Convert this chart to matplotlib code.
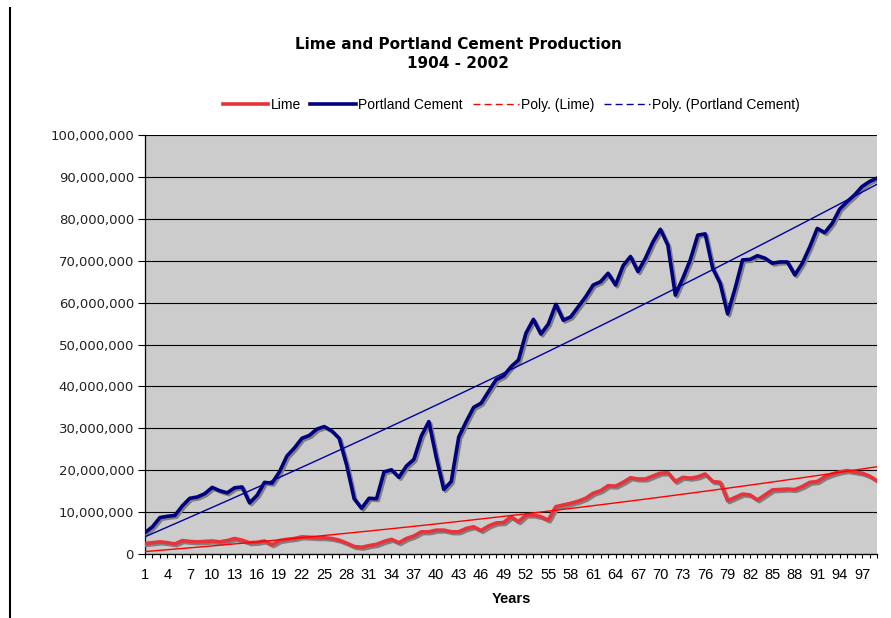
import numpy as np
import matplotlib
matplotlib.use("Agg")
import matplotlib.pyplot as plt
import matplotlib.patheffects as pe
from matplotlib.lines import Line2D
from matplotlib.ticker import FuncFormatter, MultipleLocator

# Production, millions of tons, years 1..99 (1904 - 2002)
years = np.arange(1, 100)

lime = [2.5, 2.7, 2.9, 2.7, 2.4, 3.2, 3.0, 2.9, 3.0, 3.1,
        2.9, 3.2, 3.7, 3.3, 2.7, 2.8, 3.1, 2.2, 3.2, 3.5,
        3.7, 4.1, 4.0, 3.9, 3.9, 3.7, 3.3, 2.6, 1.8, 1.6,
        2.0, 2.3, 3.0, 3.5, 2.7, 3.7, 4.3, 5.3, 5.3, 5.7,
        5.7, 5.3, 5.3, 6.1, 6.5, 5.6, 6.7, 7.4, 7.5, 8.9,
        7.7, 9.3, 9.3, 8.9, 8.1, 11.3, 11.7, 12.1, 12.6, 13.3,
        14.5, 15.1, 16.3, 16.2, 17.1, 18.2, 17.9, 17.9, 18.6, 19.3,
        19.4, 17.3, 18.3, 18.1, 18.4, 19.1, 17.3, 17.1, 12.7, 13.5,
        14.3, 14.1, 12.9, 14.1, 15.3, 15.4, 15.5, 15.4, 16.1, 17.1,
        17.3, 18.4, 19.1, 19.6, 19.9, 19.6, 19.3, 18.6, 17.5]

cement = [5.1, 6.5, 8.7, 9.0, 9.2, 11.5, 13.3, 13.6, 14.4, 15.9,
          15.1, 14.6, 15.8, 16.0, 12.2, 14.0, 17.1, 16.9, 19.6, 23.4,
          25.3, 27.6, 28.3, 29.8, 30.4, 29.4, 27.6, 21.2, 13.2, 10.9,
          13.3, 13.2, 19.6, 20.1, 18.3, 21.0, 22.6, 28.2, 31.6, 23.0,
          15.4, 17.3, 27.9, 31.6, 35.0, 36.0, 38.8, 41.6, 42.5, 44.7,
          46.3, 52.7, 56.0, 52.5, 54.9, 59.6, 55.8, 56.6, 59.0, 61.4,
          64.2, 65.0, 67.0, 64.2, 68.8, 71.0, 67.4, 70.6, 74.5, 77.5,
          73.7, 61.8, 65.8, 70.2, 76.1, 76.4, 68.2, 64.6, 57.3, 63.4,
          70.2, 70.3, 71.2, 70.6, 69.4, 69.7, 69.7, 66.6, 69.4, 73.3,
          77.7, 76.7, 78.9, 82.3, 84.1, 85.7, 87.7, 88.9, 89.7]

lime = np.array(lime) * 1e6
cement = np.array(cement) * 1e6

# Excel-style polynomial (order 2) trendlines
lime_fit = np.polyval(np.polyfit(years, lime, 2), years)
cement_fit = np.polyval(np.polyfit(years, cement, 2), years)

red = "#E8323C"
navy = "#000080"

fig = plt.figure(figsize=(8.91, 6.18), dpi=100)
ax = fig.add_axes([145/891, 1 - 554/618, (877-145)/891, (554-135)/618])
ax.set_facecolor("#CCCCCC")

shadow = [pe.SimpleLineShadow(offset=(1.3, -1.3), shadow_color="#808080", alpha=1.0),
          pe.Normal()]
ax.plot(years, lime, color=red, lw=2.6, path_effects=shadow, zorder=3, solid_joinstyle="round")
ax.plot(years, cement, color=navy, lw=2.6, path_effects=shadow, zorder=3, solid_joinstyle="round")
ax.plot(years, lime_fit, color="#FF0000", lw=1.0, zorder=4)
ax.plot(years, cement_fit, color="#0000A0", lw=1.0, zorder=4)

ax.set_xlim(1, 99)
ax.set_ylim(0, 100e6)
ax.yaxis.set_major_locator(MultipleLocator(10e6))
ax.yaxis.set_major_formatter(FuncFormatter(lambda v, p: f"{v:,.0f}"))
ax.set_xticks(np.arange(1, 99, 3))
ax.xaxis.set_minor_locator(MultipleLocator(1))
ax.grid(axis="y", color="black", lw=0.8)
ax.set_axisbelow(True)

for s in ["top", "right"]:
    ax.spines[s].set_visible(False)
for s in ["left", "bottom"]:
    ax.spines[s].set_color("black")
    ax.spines[s].set_linewidth(0.9)

ax.tick_params(axis="y", direction="out", length=5, width=0.8, pad=3,
               labelsize=9.5, labelcolor="#222222")
ax.tick_params(axis="x", which="both", direction="out", length=3, width=0.8, pad=7)
for lab in ax.get_xticklabels():
    lab.set_family(["Liberation Sans Narrow", "Liberation Sans"])
    lab.set_fontsize(10.5)

ax.set_xlabel("Years", fontsize=10.5, fontweight="bold",
              family=["Liberation Sans Narrow", "Liberation Sans"], labelpad=7)

fig.text(458/891, 1 - 54/618, "Lime and Portland Cement Production\n1904 - 2002",
         ha="center", va="center", fontsize=11, fontweight="bold", linespacing=1.3)

handles = [Line2D([], [], color=red, lw=2.6),
           Line2D([], [], color=navy, lw=2.6),
           Line2D([], [], color="#FF0000", lw=1.0, ls=(0, (5, 3))),
           Line2D([], [], color="#0000A0", lw=1.0, ls=(0, (5, 3)))]
labels = ["Lime", "Portland Cement", "Poly. (Lime)", "Poly. (Portland Cement)"]
fig.legend(handles, labels, loc="center", bbox_to_anchor=(511/891, 1 - 105/618),
           ncol=4, frameon=False, handlelength=3.3, handletextpad=0.15,
           columnspacing=0.7, prop={"family": ["Liberation Sans", "DejaVu Sans"], "size": 10})

# chart area border on the left
fig.add_artist(Line2D([10/891, 10/891], [0, 1 - 8/618], color="black", lw=1.5,
                      transform=fig.transFigure))

fig.savefig("out.png", dpi=100)
